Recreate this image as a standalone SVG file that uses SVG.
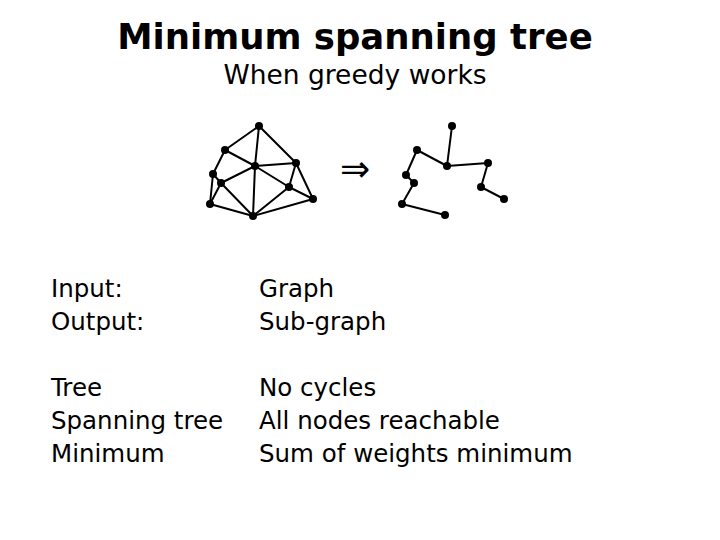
<svg xmlns="http://www.w3.org/2000/svg" width="720" height="540" viewBox="0 0 720 540">
<style>
.t{font-family:"DejaVu Sans","Liberation Sans",sans-serif;fill:#000}
.e line{stroke:#000;stroke-width:2;stroke-linecap:round}
.n circle{fill:#000}
</style>
<rect width="720" height="540" fill="#fff"/>
<text class="t" x="355" y="49" font-size="35.5" font-weight="bold" text-anchor="middle">Minimum spanning tree</text>
<text class="t" x="355" y="84" font-size="26.5" text-anchor="middle">When greedy works</text>
<g id="connectors" class="e">
<line x1="259" y1="126" x2="225" y2="150"/>
<line x1="259" y1="126" x2="255" y2="166"/>
<line x1="259" y1="126" x2="296" y2="163"/>
<line x1="225" y1="150" x2="255" y2="166"/>
<line x1="225" y1="150" x2="213" y2="174"/>
<line x1="255" y1="166" x2="296" y2="163"/>
<line x1="255" y1="166" x2="221" y2="183"/>
<line x1="255" y1="166" x2="289" y2="187"/>
<line x1="255" y1="166" x2="253" y2="216"/>
<line x1="296" y1="163" x2="289" y2="187"/>
<line x1="296" y1="163" x2="313" y2="199"/>
<line x1="213" y1="174" x2="221" y2="183"/>
<line x1="213" y1="174" x2="210" y2="204"/>
<line x1="221" y1="183" x2="210" y2="204"/>
<line x1="221" y1="183" x2="253" y2="216"/>
<line x1="289" y1="187" x2="313" y2="199"/>
<line x1="289" y1="187" x2="253" y2="216"/>
<line x1="210" y1="204" x2="253" y2="216"/>
<line x1="253" y1="216" x2="313" y2="199"/>
<line x1="452" y1="126" x2="447" y2="166"/>
<line x1="417" y1="150" x2="447" y2="166"/>
<line x1="447" y1="166" x2="488" y2="163"/>
<line x1="417" y1="150" x2="406" y2="175"/>
<line x1="406" y1="175" x2="414" y2="183"/>
<line x1="414" y1="183" x2="402" y2="204"/>
<line x1="402" y1="204" x2="445" y2="215"/>
<line x1="488" y1="163" x2="481" y2="187"/>
<line x1="481" y1="187" x2="504" y2="199"/>
</g>
<g class="n">
<g id="g1"><circle cx="259" cy="126" r="4"/></g>
<g id="g2"><circle cx="225" cy="150" r="4"/></g>
<g id="g3"><circle cx="255" cy="166" r="4"/></g>
<g id="g4"><circle cx="296" cy="163" r="4"/></g>
<g id="g5"><circle cx="213" cy="174" r="4"/></g>
<g id="g6"><circle cx="221" cy="183" r="4"/></g>
<g id="g7"><circle cx="289" cy="187" r="4"/></g>
<g id="g8"><circle cx="210" cy="204" r="4"/></g>
<g id="g9"><circle cx="253" cy="216" r="4"/></g>
<g id="g10"><circle cx="313" cy="199" r="4"/></g>
<g id="t1"><circle cx="452" cy="126" r="4"/></g>
<g id="t2"><circle cx="417" cy="150" r="4"/></g>
<g id="t3"><circle cx="447" cy="166" r="4"/></g>
<g id="t4"><circle cx="488" cy="163" r="4"/></g>
<g id="t5"><circle cx="406" cy="175" r="4"/></g>
<g id="t6"><circle cx="414" cy="183" r="4"/></g>
<g id="t7"><circle cx="481" cy="187" r="4"/></g>
<g id="t8"><circle cx="402" cy="204" r="4"/></g>
<g id="t9"><circle cx="445" cy="215" r="4"/></g>
<g id="t10"><circle cx="504" cy="199" r="4"/></g>
</g>
<text class="t" x="340" y="181" font-size="36">⇒</text>
<g class="t" font-size="24.5">
<text x="51" y="297">Input:</text>
<text x="51" y="330">Output:</text>
<text x="259" y="297">Graph</text>
<text x="259" y="330">Sub-graph</text>
<text x="51" y="396">Tree</text>
<text x="51" y="429">Spanning tree</text>
<text x="51" y="462">Minimum</text>
<text x="259" y="396">No cycles</text>
<text x="259" y="429">All nodes reachable</text>
<text x="259" y="462">Sum of weights minimum</text>
</g>
</svg>
